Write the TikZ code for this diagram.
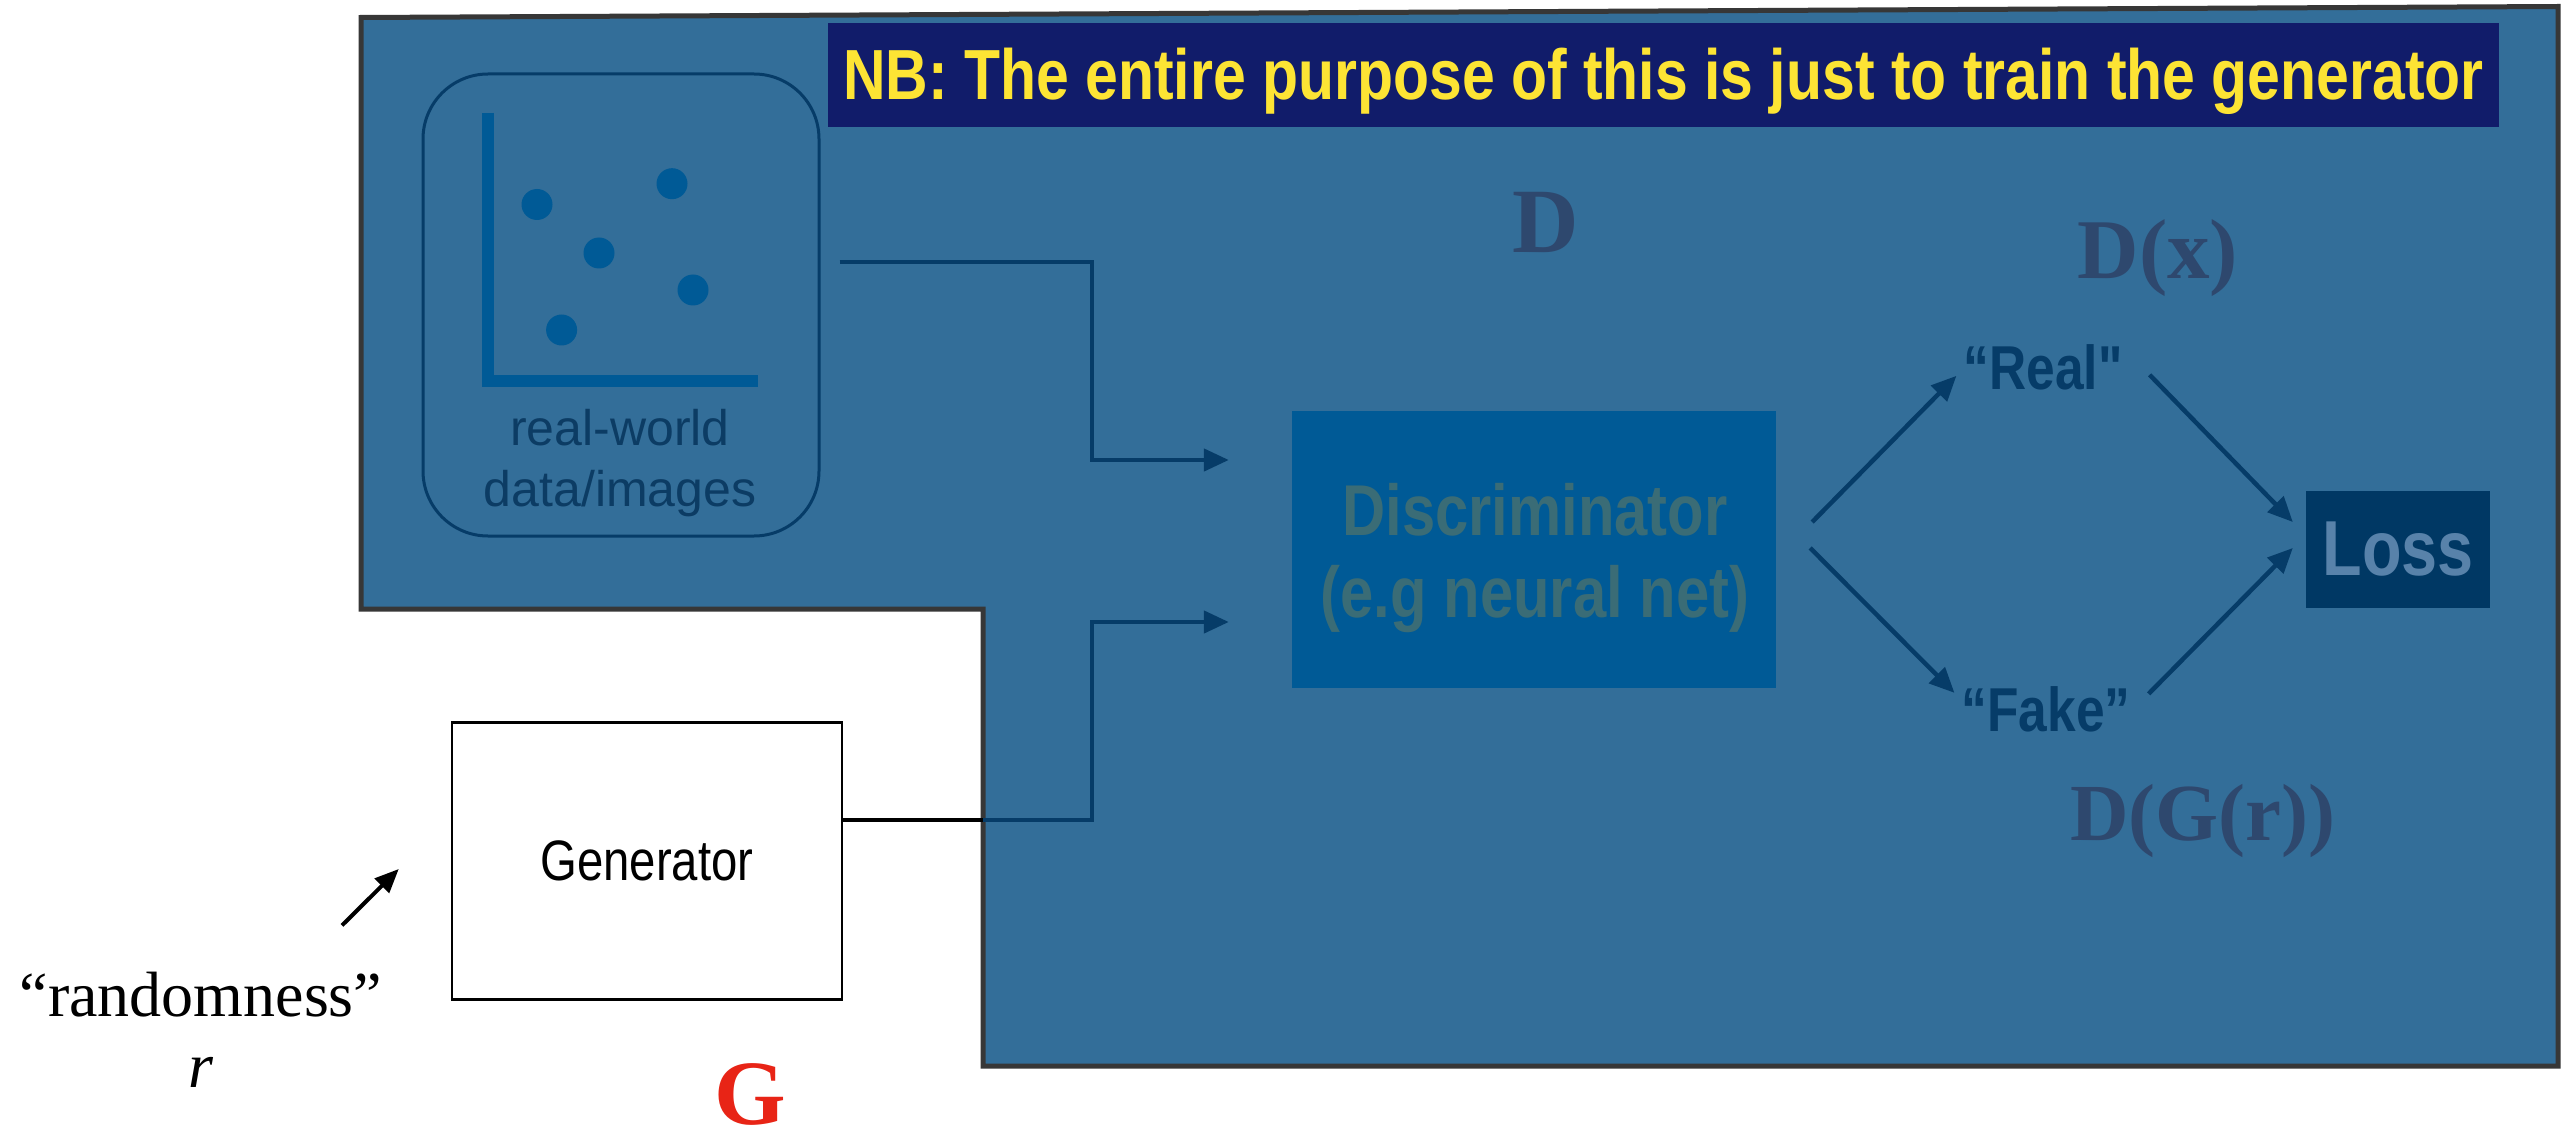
\documentclass[tikz,border=0pt]{standalone}
\usepackage{fontspec}
\setmainfont{Liberation Serif}
\newfontfamily\helv{Liberation Sans}
\newfontfamily\condsans[FakeStretch=0.83]{Liberation Sans}
\usetikzlibrary{arrows.meta,calc}

\definecolor{panel}{RGB}{51,110,153}
\definecolor{panelrim}{RGB}{55,55,55}
\definecolor{navyline}{RGB}{6,60,104}
\definecolor{bannerbg}{RGB}{17,28,106}
\definecolor{banneryel}{RGB}{253,228,52}
\definecolor{discfill}{RGB}{0,90,150}
\definecolor{disctxt}{RGB}{58,108,118}
\definecolor{lossfill}{RGB}{0,56,100}
\definecolor{losstxt}{RGB}{88,130,170}
\definecolor{plotblue}{RGB}{0,90,150}
\definecolor{datatxt}{RGB}{12,60,100}
\definecolor{dlabel}{RGB}{46,72,110}
\definecolor{gred}{RGB}{232,36,22}

\begin{document}
\begin{tikzpicture}[x=1pt,y=-1pt,
  flow/.style={draw=navyline,line width=4.5pt,-{Triangle[length=25pt,width=22pt]}},
  txt/.style={inner sep=0pt,anchor=base},
  condbold/.style={font=\condsans\bfseries\fontsize{#1}{#1}\selectfont},
  serifbold/.style={font=\bfseries\fontsize{#1}{#1}\selectfont,text=dlabel}
]
\useasboundingbox (0,0) rectangle (2569,1139);
\fill[white] (0,0) rectangle (2569,1139);

% L-shaped discriminator panel
\coordinate (notch) at (983,609);
\filldraw[fill=panel,draw=panelrim,line width=5pt,line join=miter]
  (361,17.5) -- (2558,6.5) -- (2558,1066) -- (983,1066) -- (notch) -- (361,609) -- cycle;

% banner
\node[fill=bannerbg,minimum width=1671pt,minimum height=104pt,inner sep=0pt] (banner) at (1663.5,75) {};
\node[txt,condbold=71,text=banneryel] (bannertext) at (1663.5,100)
  {NB: The entire purpose of this is just to train the generator};

% real-world data card
\node[draw=navyline,line width=3pt,rounded corners=65pt,minimum width=396pt,minimum height=462pt,inner sep=0pt] (data) at (621,305) {};
\draw[plotblue,line width=12pt,line join=miter] (488,113) -- (488,381) -- (758,381);
\foreach \px/\py in {537/204.5, 672/183.7, 599/253, 693/290, 561.6/330}
  \fill[plotblue] (\px,\py) circle[radius=15.5pt];
\node[txt,font=\helv\fontsize{50}{50}\selectfont,text=datatxt] (datal1) at (620,445) {real-world};
\node[txt,font=\helv\fontsize{50}{50}\selectfont,text=datatxt] (datal2) at (620,506) {data/images};

% discriminator
\node[fill=discfill,minimum width=484pt,minimum height=277pt,inner sep=0pt] (disc) at (1534,549.5) {};
\node[txt,condbold=72,text=disctxt] (disct1) at (1535,535) {Discriminator};
\node[txt,condbold=72,text=disctxt] (disct2) at (1535,617) {(e.g neural net)};

% loss
\node[fill=lossfill,minimum width=184pt,minimum height=117pt,inner sep=0pt,
      condbold=78,text=losstxt] (loss) at (2398,549.5) {Loss};

% outputs
\node[txt,condbold=62,text=navyline] (real) at (2043,389) {“Real"};
\node[txt,condbold=62,text=navyline] (fake) at (2046,731.5) {“Fake”};

% serif labels
\node[txt,serifbold=92] (dlab) at (1546,253) {D};
\node[txt,serifbold=85] (dxlab) at (2158,279) {D(x)};
\node[txt,serifbold=81] (dglab) at (2203,840) {D(G(r))};

% generator
\node[draw=black,line width=2.5pt,minimum width=390pt,minimum height=277pt,inner sep=0pt,
      font=\condsans\fontsize{57}{57}\selectfont] (gen) at (647,861) {Generator};
\node[txt,font=\fontsize{64}{64}\selectfont] (rand) at (201,1016) {“randomness”};
\node[txt,font=\itshape\fontsize{64}{64}\selectfont] (rvar) at (201,1087) {r};
\node[txt,font=\bfseries\fontsize{92}{92}\selectfont,text=gred] (glab) at (750,1124) {G};

% connector anchors
\coordinate (bus) at (1092,540);
\coordinate (dataout) at ($(data.east)+(19,-43)$);
\coordinate (inA) at ($(disc.west)+(-63,-89.5)$);
\coordinate (inB) at ($(disc.west)+(-63,72.5)$);
\coordinate (genout) at ($(gen.east)+(-2,-41)$);
\coordinate (randfrom) at ($(rand.north)+(141,-46)$);
\coordinate (randto) at ($(gen.west)+(-52,8)$);

% inputs to the discriminator
\draw[flow,line join=miter] (dataout) -| (bus |- inA) -- (inA);
\draw[flow,line join=miter] (genout) -| (bus |- inB) -- (inB);
\draw[black,line width=4.5pt] (genout) -- (genout -| notch);

% discriminator outputs and loss
\draw[flow] ($(disc.east)+(36,-27.5)$) -- ($(real.west)+(-7,9)$);
\draw[flow] ($(disc.east)+(34,-1.5)$) -- ($(fake.west)+(-7,-16.5)$);
\draw[flow] ($(real.east)+(27,8)$) -- ($(loss.west)+(-13,-27.5)$);
\draw[flow] ($(fake.east)+(18,-15.5)$) -- ($(loss.west)+(-13,-1.5)$);

% randomness feeding the generator
\draw[black,line width=4pt,-{Triangle[length=24pt,width=20pt]}] (randfrom) -- (randto);
\end{tikzpicture}
\end{document}
